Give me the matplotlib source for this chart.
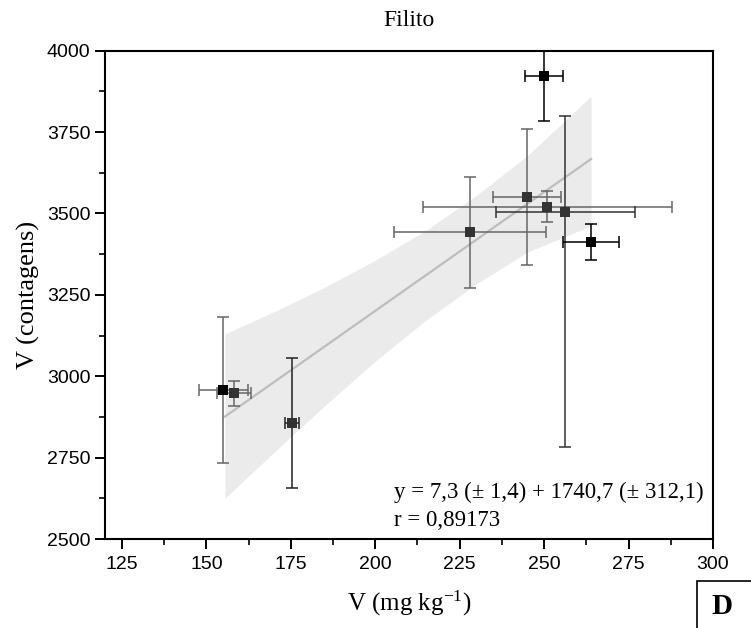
import numpy as np
import matplotlib
matplotlib.use("Agg")
import matplotlib.pyplot as plt
from matplotlib.ticker import MultipleLocator
from matplotlib.patches import Rectangle

plt.rcParams['mathtext.fontset'] = 'custom'
plt.rcParams['mathtext.rm'] = 'Liberation Serif'
plt.rcParams['mathtext.it'] = 'Liberation Serif:italic'

# dados (V mg/kg x V contagens)
v_mg = [250.0, 244.9, 251.0, 256.3, 228.1, 263.9, 155.0, 158.3, 175.3]
v_cont = [3922, 3551, 3521, 3505, 3442, 3412, 2958, 2947, 2857]
err_x = [5.6, 10.0, 37.0, 20.6, 22.4, 8.3, 7.3, 5.0, 2.1]
err_y_sup = [138, 208, 48, 295, 170, 55, 224, 37, 200]
err_y_inf = [138, 208, 48, 723, 170, 55, 224, 37, 200]
cor_ponto = ['#000000', '#333333', '#333333', '#333333', '#333333', '#000000', '#000000', '#333333', '#333333']
cor_barra = ['#000000', '#666666', '#666666', '#333333', '#666666', '#000000', '#666666', '#666666', '#222222']

# reta ajustada y = a*x + b
a = 7.3
b = 1740.7
x_reta = [155.5, 263.9]

# faixa de confianca (lida)
faixa_x = [155.5, 170, 185, 200, 215, 230, 245, 263.9]
faixa_sup = [3130, 3198, 3273, 3356, 3448, 3556, 3677, 3860]
faixa_inf = [2625, 2766, 2909, 3046, 3172, 3284, 3381, 3462]

fig = plt.figure(figsize=(7.51, 6.28), dpi=100)
ax = fig.add_axes([0.1398, 0.1417, 0.8096, 0.7776])

ax.fill_between(faixa_x, faixa_inf, faixa_sup, color='#ebebeb', lw=0, zorder=1)
xr = np.array(x_reta)
ax.plot(xr, a * xr + b, color='#bdbdbd', lw=1.6, zorder=2)

for i in range(len(v_mg)):
    ax.errorbar(v_mg[i], v_cont[i], xerr=err_x[i], yerr=[[err_y_inf[i]], [err_y_sup[i]]], fmt='none',
                ecolor=cor_barra[i], elinewidth=1.1, capsize=4, capthick=1.1, zorder=3)
    ax.plot(v_mg[i], v_cont[i], 's', color=cor_ponto[i], ms=7.4, mew=0, zorder=4)

ax.set_xlim(120, 300)
ax.set_ylim(2500, 4000)
ax.xaxis.set_major_locator(MultipleLocator(25))
ax.xaxis.set_minor_locator(MultipleLocator(12.5))
ax.yaxis.set_major_locator(MultipleLocator(250))
ax.yaxis.set_minor_locator(MultipleLocator(125))
ax.tick_params(which='major', length=7, width=1.4, labelsize=14)
ax.tick_params(axis='x', which='major', pad=5)
ax.tick_params(which='minor', length=4, width=1.2)
for lab in ax.get_xticklabels() + ax.get_yticklabels():
    lab.set_fontfamily('Liberation Sans')
for s in ax.spines.values():
    s.set_linewidth(1.5)

ax.set_title('Filito', fontfamily='Liberation Serif', fontsize=17, pad=18)
ax.set_xlabel('V (mg kg$^{\\mathregular{-1}}$)', fontfamily='Liberation Serif', fontsize=18, labelpad=12)
ax.set_ylabel('V (contagens)', fontfamily='Liberation Serif', fontsize=19, labelpad=5)

ax.text(0.475, 0.095, 'y = 7,3 (\u00b1 1,4) + 1740,7 (\u00b1 312,1)', transform=ax.transAxes,
        fontfamily='Liberation Serif', fontsize=16.5, va='center')
ax.text(0.475, 0.038, 'r = 0,89173', transform=ax.transAxes,
        fontfamily='Liberation Serif', fontsize=16.5, va='center')

fig.patches.append(Rectangle((697 / 751, -0.05), 0.2, 1 - 581 / 628 + 0.05, transform=fig.transFigure,
                             fc='white', ec='black', lw=1.2))
fig.text(722 / 751, 1 - 606 / 628, 'D', fontfamily='Liberation Serif', fontsize=21, fontweight='bold',
         ha='center', va='center')

fig.savefig('out.png', dpi=100)
